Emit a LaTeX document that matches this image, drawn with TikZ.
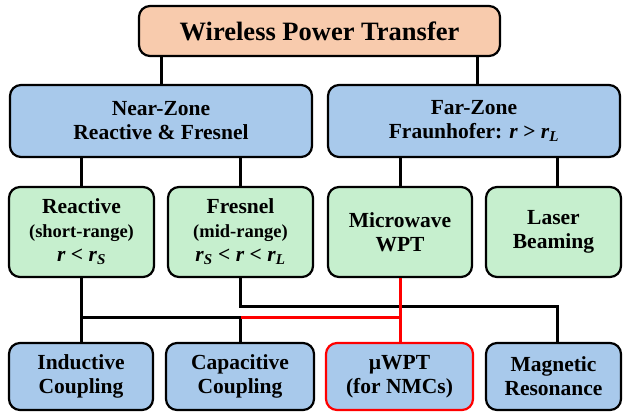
\documentclass[tikz,border=0pt]{standalone}
\usepackage{fontspec}
\setmainfont{Liberation Serif}
\definecolor{peach}{RGB}{248,203,173}
\definecolor{bluebox}{RGB}{168,201,235}
\definecolor{greenbox}{RGB}{198,239,206}
\definecolor{redline}{RGB}{255,0,0}
\newcommand{\rv}{\textit{r}}
\newcommand{\sub}[1]{\textsubscript{\textit{#1}}}
\begin{document}
\begin{tikzpicture}[x=1pt,y=-1pt,
  box/.style={draw=black, line width=2.2pt, rounded corners=11pt, align=center,
    inner sep=0pt, font=\fontsize{21.5}{24}\selectfont\bfseries},
  topbox/.style={box, fill=peach, font=\fontsize{26.5}{28}\selectfont\bfseries},
  bluenode/.style={box, fill=bluebox},
  greennode/.style={box, fill=greenbox},
  conn/.style={line width=3pt, draw=black},
  redconn/.style={line width=3pt, draw=redline}]
\useasboundingbox (0,0) rectangle (628,414);
\node[topbox, minimum width=361pt, minimum height=50pt] (wpt) at (319.5,31) {Wireless Power Transfer};
\node[bluenode, minimum width=302pt, minimum height=72pt] (near) at (161,121) {Near-Zone\\Reactive \& Fresnel};
\node[bluenode, minimum width=292pt, minimum height=72pt] (far) at (474,121) {Far-Zone\\Fraunhofer: \rv{} > \rv\sub{L}};
\node[greennode, minimum width=145pt, minimum height=90pt] (reac) at (81.5,232) {Reactive\\{\fontsize{18.5}{23}\selectfont(short-range)}\\\rv{} < \rv\sub{S}};
\node[greennode, minimum width=145pt, minimum height=90pt] (fres) at (240.5,232) {Fresnel\\{\fontsize{18.5}{23}\selectfont(mid-range)}\\\rv\sub{S} < \rv{} < \rv\sub{L}};
\node[greennode, minimum width=144pt, minimum height=90pt] (micro) at (400,232) {Microwave\\WPT};
\node[greennode, minimum width=135pt, minimum height=90pt] (laser) at (553.5,232) {Laser\\Beaming};
\node[bluenode, minimum width=144pt, minimum height=67pt] (ind) at (81,376.5) {Inductive\\Coupling};
\node[bluenode, minimum width=148pt, minimum height=67pt] (cap) at (240,376.5) {Capacitive\\Coupling};
\node[bluenode, draw=redline, minimum width=147pt, minimum height=67pt] (uwpt) at (399.5,376.5) {µWPT\\(for NMCs)};
\node[bluenode, minimum width=135pt, minimum height=67pt] (mag) at (553.5,376.5) {Magnetic\\Resonance};
% coordinates for buses
\coordinate (busA) at (81.5,317);
\coordinate (busB) at (240.5,317);
\coordinate (busC) at (400,317);
\coordinate (fbus) at (240.5,306);
\coordinate (fend) at (557,306);
% top level connectors
\draw[conn] (wpt.south -| near) -- (near.north);
\draw[conn] ([xshift=158pt]wpt.south) -- ([xshift=158pt]wpt.south |- far.north);
\draw[conn] (near.south -| reac) -- (reac.north);
\draw[conn] (near.south -| fres) -- (fres.north);
\draw[conn] (far.south -| micro) -- (micro.north);
\draw[conn] ([xshift=83pt]far.south) -- ([xshift=83pt]far.south |- laser.north);
% lower connectors
\draw[conn] (fres.south) -- (fbus) -- (fend) -- (fend |- mag.north);
\draw[conn] (reac.south) -- (busA) -- (ind.north -| busA);
\draw[conn] (busA) -- (busB) -- (cap.north -| busB);
\draw[redconn] (busB) -- (busC);
\draw[redconn] (micro.south) -- (uwpt.north -| micro.south);
\end{tikzpicture}
\end{document}
